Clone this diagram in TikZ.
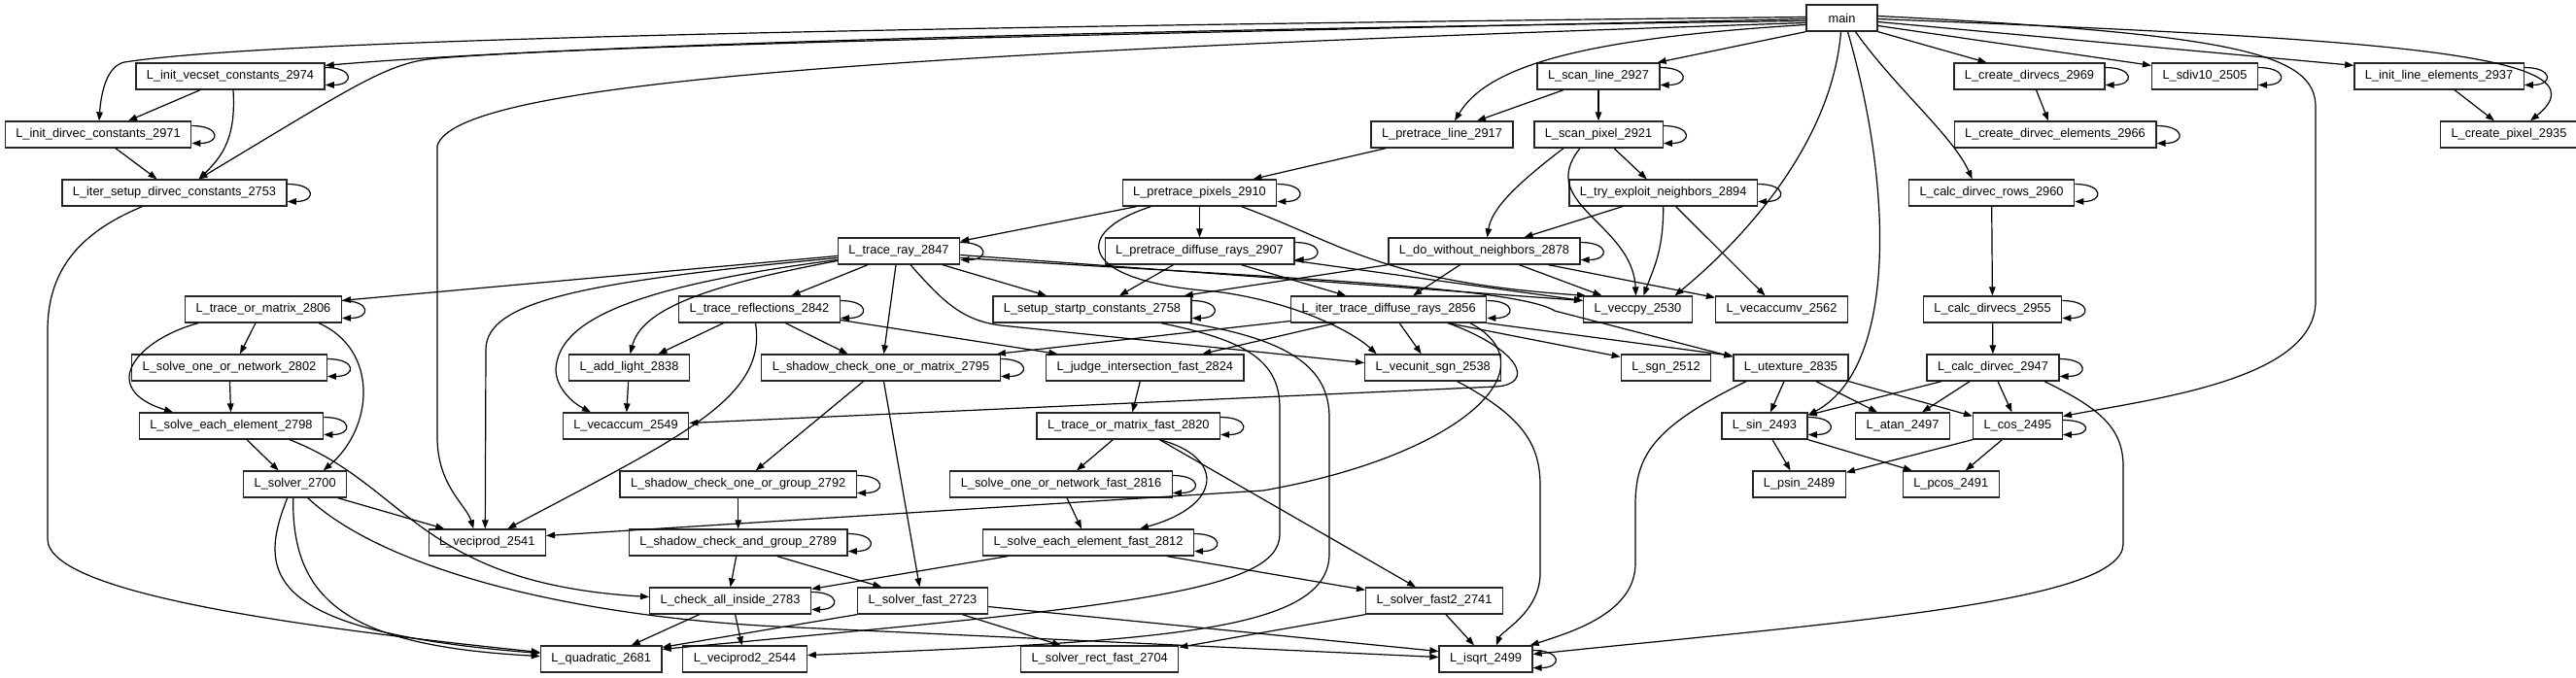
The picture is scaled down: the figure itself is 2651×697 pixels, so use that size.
\documentclass[tikz,border=0pt]{standalone}
\usepackage{fontspec}
\setmainfont{Liberation Sans}
\usetikzlibrary{arrows.meta}

\begin{document}
\begin{tikzpicture}[x=1pt, y=-1pt,
  fn/.style={rectangle, draw=black!85, line width=1.3pt, minimum height=27pt,
    inner xsep=11pt, inner ysep=0pt, font=\fontsize{12.8}{14}\selectfont},
  arr/.style={-{Triangle[length=9pt,width=6.5pt]}, line width=1.2pt}]
  \tikzset{selfloop/.style={to path={.. controls +(30pt,0pt) and +(30pt,0pt) .. (\tikztotarget)}}}
  \useasboundingbox (0,0) rectangle (2651,697);
  % Nodes, one row per call depth
  \node[fn, minimum width=73pt] (main) at (1895.5,18.5) {main};
  \node[fn] (initvecset) at (237,78.5) {L\_init\_vecset\_constants\_2974};
  \node[fn] (scanline) at (1645,78.5) {L\_scan\_line\_2927};
  \node[fn] (createdirvecs) at (2088.5,78.5) {L\_create\_dirvecs\_2969};
  \node[fn] (sdiv) at (2269,78.5) {L\_sdiv10\_2505};
  \node[fn] (initline) at (2510,78.5) {L\_init\_line\_elements\_2937};
  \node[fn] (initdirvec) at (101,138.5) {L\_init\_dirvec\_constants\_2971};
  \node[fn] (pretraceline) at (1484,138.5) {L\_pretrace\_line\_2917};
  \node[fn] (scanpixel) at (1645,138.5) {L\_scan\_pixel\_2921};
  \node[fn] (createdirvecelements) at (2115,138.5) {L\_create\_dirvec\_elements\_2966};
  \node[fn] (createpixel) at (2582,138.5) {L\_create\_pixel\_2935};
  \node[fn] (itersetup) at (179.5,198.5) {L\_iter\_setup\_dirvec\_constants\_2753};
  \node[fn] (pretracepixels) at (1234.5,198.5) {L\_pretrace\_pixels\_2910};
  \node[fn] (tryexploit) at (1711.7,198.5) {L\_try\_exploit\_neighbors\_2894};
  \node[fn] (calcdirvecrows) at (2049.6,198.5) {L\_calc\_dirvec\_rows\_2960};
  \node[fn] (traceray) at (925,258.5) {L\_trace\_ray\_2847};
  \node[fn] (pretracediffuse) at (1234.5,258.5) {L\_pretrace\_diffuse\_rays\_2907};
  \node[fn] (dowithout) at (1527.5,258.5) {L\_do\_without\_neighbors\_2878};
  \node[fn] (traceormatrix) at (271,318.5) {L\_trace\_or\_matrix\_2806};
  \node[fn] (tracereflections) at (781.5,318.5) {L\_trace\_reflections\_2842};
  \node[fn] (setupstartp) at (1124,318.5) {L\_setup\_startp\_constants\_2758};
  \node[fn] (itertrace) at (1429.2,318.5) {L\_iter\_trace\_diffuse\_rays\_2856};
  \node[fn] (veccpy) at (1685.5,318.5) {L\_veccpy\_2530};
  \node[fn] (vecaccumv) at (1833.5,318.5) {L\_vecaccumv\_2562};
  \node[fn] (calcdirvecs) at (2050.5,318.5) {L\_calc\_dirvecs\_2955};
  \node[fn] (solveone) at (236,378.5) {L\_solve\_one\_or\_network\_2802};
  \node[fn] (addlight) at (647.5,378.5) {L\_add\_light\_2838};
  \node[fn] (shadowmatrix) at (906.5,378.5) {L\_shadow\_check\_one\_or\_matrix\_2795};
  \node[fn] (judge) at (1178.3,378.5) {L\_judge\_intersection\_fast\_2824};
  \node[fn] (vecunitsgn) at (1474.7,378.5) {L\_vecunit\_sgn\_2538};
  \node[fn] (lsgn) at (1714.5,378.5) {L\_sgn\_2512};
  \node[fn] (utexture) at (1843,378.5) {L\_utexture\_2835};
  \node[fn] (calcdirvec) at (2051,378.5) {L\_calc\_dirvec\_2947};
  \node[fn] (solveeach) at (238,438.5) {L\_solve\_each\_element\_2798};
  \node[fn] (vecaccum) at (644,438.5) {L\_vecaccum\_2549};
  \node[fn] (traceormatrixfast) at (1161.3,438.5) {L\_trace\_or\_matrix\_fast\_2820};
  \node[fn] (lsin) at (1816,438.5) {L\_sin\_2493};
  \node[fn] (latan) at (1958,438.5) {L\_atan\_2497};
  \node[fn] (lcos) at (2076.4,438.5) {L\_cos\_2495};
  \node[fn] (solver) at (303.7,498.5) {L\_solver\_2700};
  \node[fn] (shadowgroup) at (759.7,498.5) {L\_shadow\_check\_one\_or\_group\_2792};
  \node[fn] (solveonefast) at (1092,498.5) {L\_solve\_one\_or\_network\_fast\_2816};
  \node[fn] (psin) at (1851.6,498.5) {L\_psin\_2489};
  \node[fn] (pcos) at (2007.7,498.5) {L\_pcos\_2491};
  \node[fn] (veciprod) at (501.3,558.5) {L\_veciprod\_2541};
  \node[fn] (shadowand) at (759.7,558.5) {L\_shadow\_check\_and\_group\_2789};
  \node[fn] (solveeachfast) at (1120,558.5) {L\_solve\_each\_element\_fast\_2812};
  \node[fn] (checkall) at (751.6,618.5) {L\_check\_all\_inside\_2783};
  \node[fn] (solverfast) at (949.4,618.5) {L\_solver\_fast\_2723};
  \node[fn] (solverfasttwo) at (1476,618.5) {L\_solver\_fast2\_2741};
  \node[fn] (quadratic) at (618.7,678.5) {L\_quadratic\_2681};
  \node[fn] (veciprodtwo) at (766.5,678.5) {L\_veciprod2\_2544};
  \node[fn] (solverrect) at (1131.7,678.5) {L\_solver\_rect\_fast\_2704};
  \node[fn] (isqrt) at (1529,678.5) {L\_isqrt\_2499};
  % main
  \draw[arr] ([yshift=-3pt]main.west) .. controls (1200,30) and (600,45) .. ([yshift=-3pt]initvecset.north east);
  \draw[arr] ([yshift=1pt]main.west) .. controls (700,30) and (250,45) .. (128,64) .. controls (110,68) and (104,95) .. ([xshift=1pt]initdirvec.north);
  \draw[arr] ([yshift=-1pt]main.west) .. controls (1000,38) and (600,48) .. (450,60) .. controls (400,64) and (370,85) .. ([xshift=25pt]itersetup.north);
  \draw[arr] ([yshift=-5pt]main.west) .. controls (900,55) and (470,85) .. (450,150) -- (450,450) .. controls (450,500) and (480,520) .. ([xshift=-14pt]veciprod.north);
  \draw[arr] ([yshift=-7pt]main.west) .. controls (1620,40) and (1530,70) .. ([xshift=13pt]pretraceline.north);
  \draw[arr] (main.south west) -- ([xshift=-3pt]scanline.north east);
  \draw[arr] ([xshift=-1pt]main.south) .. controls (1885,150) and (1790,250) .. ([xshift=38pt]veccpy.north);
  \draw[arr] ([xshift=6pt]main.south) .. controls (1950,200) and (1950,380) .. ([yshift=-3pt]lsin.north east);
  \draw[arr] ([xshift=14pt]main.south) .. controls (1950,90) and (2010,140) .. ([xshift=-20pt]calcdirvecrows.north);
  \draw[arr] (main.south east) -- ([xshift=-44pt]createdirvecs.north);
  \draw[arr] ([yshift=-8pt]main.east) -- ([yshift=-3pt]sdiv.north west);
  \draw[arr] ([yshift=-4pt]main.east) -- ([yshift=-3pt]initline.north west);
  \draw[arr] ([yshift=-1pt]main.east) .. controls (2450,40) and (2690,55) .. ([xshift=22pt]createpixel.north);
  \draw[arr] ([yshift=2pt]main.east) .. controls (2300,35) and (2383,55) .. (2383,110) -- (2383,310) .. controls (2383,390) and (2220,410) .. ([yshift=10pt]lcos.east);
  % setup of the direction vectors
  \draw[arr] ([xshift=-31pt]initvecset.south) -- ([xshift=31pt]initdirvec.north);
  \draw[arr] ([xshift=3pt]initvecset.south) .. controls (243,140) and (230,160) .. ([xshift=25pt]itersetup.north);
  \draw[arr] ([xshift=18pt]initdirvec.south) -- ([xshift=-18pt]itersetup.north);
  \draw[arr] ([xshift=-33pt]itersetup.south) .. controls (80,240) and (49,280) .. (49,340) -- (49,555) .. controls (49,610) and (300,645) .. ([yshift=7pt]quadratic.west);
  \draw[arr] ([xshift=7pt]createdirvecs.south) -- ([xshift=-7pt]createdirvecelements.north);
  \draw[arr] ([xshift=16pt]initline.south) -- ([xshift=-15pt]createpixel.north);
  \draw[arr] (calcdirvecrows) -- (calcdirvecs);
  \draw[arr] (calcdirvecs) -- (calcdirvec);
  % scan and pretrace
  \draw[arr] ([xshift=-36pt]scanline.south) -- ([xshift=36pt]pretraceline.north);
  \draw[arr] (scanline) -- (scanpixel);
  \draw[arr] ([xshift=-58pt]pretraceline.south) -- ([xshift=55pt]pretracepixels.north);
  \draw[arr] ([xshift=16pt]scanpixel.south) -- ([xshift=-17pt]tryexploit.north);
  \draw[arr] ([xshift=-36pt]scanpixel.south) .. controls (1560,190) and (1535,215) .. ([xshift=3pt]dowithout.north);
  \draw[arr] ([xshift=-19pt]scanpixel.south) .. controls (1580,210) and (1680,230) .. ([xshift=-2pt]veccpy.north);
  \draw[arr] ([xshift=-42pt]tryexploit.south) -- ([xshift=41pt]dowithout.north);
  \draw[arr] (tryexploit.south) .. controls (1712,260) and (1700,280) .. ([xshift=6pt]veccpy.north);
  \draw[arr] ([xshift=13pt]tryexploit.south) -- ([xshift=-17pt]vecaccumv.north);
  \draw[arr] ([xshift=-65pt]pretracepixels.south) -- ([yshift=-4pt]traceray.north east);
  \draw[arr] (pretracepixels) -- (pretracediffuse);
  \draw[arr] ([xshift=43pt]pretracepixels.south) .. controls (1380,250) and (1420,290) .. ([xshift=3pt]veccpy.north west);
  \draw[arr] ([xshift=-50pt]pretracepixels.south) .. controls (1100,240) and (1110,290) .. (1250,300) .. controls (1330,310) and (1390,340) .. ([xshift=-58pt]vecunitsgn.north);
  \draw[arr] ([xshift=-27pt]pretracediffuse.south) -- ([xshift=28pt]setupstartp.north);
  \draw[arr] ([xshift=43pt]pretracediffuse.south) -- ([xshift=-44pt]itertrace.north);
  \draw[arr] ([yshift=-10pt]pretracediffuse.east) -- ([yshift=9pt]veccpy.west);
  \draw[arr] (dowithout.south west) -- ([xshift=-8pt]setupstartp.north east);
  \draw[arr] ([xshift=-25pt]dowithout.south) -- ([xshift=25pt]itertrace.north);
  \draw[arr] ([xshift=36pt]dowithout.south) -- ([xshift=-37pt]veccpy.north);
  \draw[arr] ([xshift=66pt]dowithout.south) -- ([yshift=-2pt]vecaccumv.north west);
  % trace_ray
  \draw[arr] ([yshift=-5pt]traceray.west) -- ([yshift=-5pt]traceormatrix.north east);
  \draw[arr] ([xshift=-32pt]traceray.south) -- ([xshift=33pt]tracereflections.north);
  \draw[arr] ([yshift=-7pt]traceray.west) .. controls (600,290) and (500,310) .. (500,360) -- ([xshift=-2pt]veciprod.north);
  \draw[arr] ([yshift=-9pt]traceray.west) .. controls (650,295) and (575,330) .. (572,380) .. controls (572,400) and (590,415) .. ([xshift=-36pt]vecaccum.north);
  \draw[arr] ([yshift=-10pt]traceray.west) .. controls (720,295) and (660,320) .. ([xshift=1pt]addlight.north);
  \draw[arr] ([xshift=-3pt]traceray.south) -- ([xshift=3pt]shadowmatrix.north);
  \draw[arr] ([xshift=45pt]traceray.south) -- ([xshift=-47pt]setupstartp.north);
  \draw[arr] ([xshift=12pt]traceray.south) .. controls (970,310) and (990,330) .. (1030,335) -- ([yshift=5pt]vecunitsgn.west);
  \draw[arr] ([yshift=-4pt]traceray.east) -- ([yshift=9pt]veccpy.west);
  \draw[arr] ([yshift=-7pt]traceray.east) .. controls (1300,285) and (1560,295) .. (1600,320) -- ([yshift=-3pt]utexture.north west);
  % trace_reflections
  \draw[arr] ([xshift=-37pt]tracereflections.south) -- ([xshift=30pt]addlight.north);
  \draw[arr] ([xshift=27pt]tracereflections.south) -- ([xshift=-34pt]shadowmatrix.north);
  \draw[arr] ([xshift=-4pt]tracereflections.south) .. controls (790,410) and (700,450) .. ([xshift=21pt]veciprod.north);
  \draw[arr] ([yshift=-11pt]tracereflections.east) -- ([xshift=-90pt]judge.north);
  % trace_or_matrix
  \draw[arr] ([xshift=-8pt]traceormatrix.south) -- ([xshift=11pt]solveone.north);
  \draw[arr] ([xshift=-67pt]traceormatrix.south) .. controls (140,350) and (100,400) .. ([xshift=-60pt]solveeach.north);
  \draw[arr] ([xshift=57pt]traceormatrix.south) .. controls (390,360) and (385,440) .. ([xshift=29pt]solver.north);
  \draw[arr] (solveone) -- (solveeach);
  \draw[arr] ([xshift=16pt]solveeach.south) -- ([xshift=-17pt]solver.north);
  \draw[arr] ([xshift=60pt]solveeach.south) .. controls (420,500) and (430,600) .. ([yshift=4pt]checkall.west);
  \draw[arr] ([xshift=44pt]solver.south) -- ([xshift=-44pt]veciprod.north);
  \draw[arr] ([xshift=-8pt]solver.south) .. controls (265,590) and (270,650) .. ([yshift=6pt]quadratic.west);
  \draw[arr] ([xshift=-2pt]solver.south) .. controls (300,620) and (360,665) .. ([yshift=3pt]quadratic.west);
  \draw[arr] ([xshift=13pt]solver.south) .. controls (400,590) and (600,635) .. (800,645) -- ([yshift=2pt]isqrt.west);
  % shadows and light
  \draw[arr] (addlight) -- (vecaccum);
  \draw[arr] ([xshift=-18pt]shadowmatrix.south) -- ([xshift=18pt]shadowgroup.north);
  \draw[arr] ([xshift=3pt]shadowmatrix.south) -- ([xshift=-3pt]solverfast.north);
  \draw[arr] (shadowgroup) -- (shadowand);
  \draw[arr] ([xshift=-2pt]shadowand.south) -- (checkall.north);
  \draw[arr] ([xshift=40pt]shadowand.south) -- ([xshift=-42pt]solverfast.north);
  \draw[arr] ([xshift=-32pt]checkall.south) -- ([xshift=31pt]quadratic.north);
  \draw[arr] ([xshift=5pt]checkall.south) -- ([xshift=-3pt]veciprodtwo.north);
  % setup_startp_constants
  \draw[arr] ([xshift=71pt]setupstartp.south) .. controls (1280,350) and (1317,370) .. (1317,420) -- (1317,550) .. controls (1317,610) and (1150,625) .. ([yshift=-4pt]quadratic.north east);
  \draw[arr] ([xshift=100pt]setupstartp.south) .. controls (1330,350) and (1368,380) .. (1368,430) -- (1368,570) .. controls (1368,650) and (1200,660) .. ([yshift=4pt]veciprodtwo.east);
  % iter_trace_diffuse_rays
  \draw[arr] ([yshift=-12pt]itertrace.west) -- ([xshift=-4pt]shadowmatrix.north east);
  \draw[arr] ([xshift=-55pt]itertrace.south) -- ([xshift=59pt]judge.north);
  \draw[arr] ([xshift=11pt]itertrace.south) -- ([xshift=-12pt]vecunitsgn.north);
  \draw[arr] ([xshift=61pt]itertrace.south) -- ([yshift=-3pt]lsgn.north west);
  \draw[arr] (itertrace.south east) -- ([yshift=-2pt]utexture.north west);
  \draw[arr] ([xshift=61pt]itertrace.south) .. controls (1565,360) and (1580,395) .. (1540,398) -- ([yshift=3pt]vecaccum.east);
  \draw[arr] ([xshift=84pt]itertrace.south) .. controls (1600,380) and (1500,470) .. (1300,505) -- ([yshift=7pt]veciprod.east);
  % fast path
  \draw[arr] ([xshift=-5pt]judge.south) -- ([xshift=4pt]traceormatrixfast.north);
  \draw[arr] ([xshift=-16pt]traceormatrixfast.south) -- ([xshift=16pt]solveonefast.north);
  \draw[arr] ([xshift=32pt]traceormatrixfast.south) .. controls (1260,470) and (1260,520) .. ([xshift=53pt]solveeachfast.north);
  \draw[arr] ([xshift=32pt]traceormatrixfast.south) -- ([xshift=-19pt]solverfasttwo.north);
  \draw[arr] ([xshift=6pt]solveonefast.south) -- ([xshift=-7pt]solveeachfast.north);
  \draw[arr] ([xshift=-83pt]solveeachfast.south) -- ([yshift=-2pt]checkall.north east);
  \draw[arr] ([xshift=81pt]solveeachfast.south) -- ([yshift=-3pt]solverfasttwo.north west);
  \draw[arr] ([xshift=41pt]solverfast.south) -- ([xshift=-40pt]solverrect.north);
  \draw[arr] ([yshift=-6pt]solverfast.east) -- ([yshift=8pt]isqrt.west);
  \draw[arr] (solverfast.south west) -- ([yshift=-2pt]quadratic.north east);
  \draw[arr] ([xshift=12pt]solverfasttwo.south) -- ([xshift=-12pt]isqrt.north);
  \draw[arr] (solverfasttwo.south west) -- ([yshift=-2pt]solverrect.north east);
  \draw[arr] ([xshift=25pt]vecunitsgn.south) .. controls (1570,430) and (1585,460) .. (1585,500) -- (1585,590) .. controls (1585,630) and (1545,650) .. ([xshift=11pt]isqrt.north);
  % texture and trig
  \draw[arr] ([xshift=-46pt]utexture.south) .. controls (1700,440) and (1683,470) .. (1683,520) -- (1683,580) .. controls (1683,630) and (1620,650) .. ([xshift=-3pt]isqrt.north east);
  \draw[arr] ([xshift=-7pt]utexture.south) -- ([xshift=6pt]lsin.north);
  \draw[arr] ([xshift=26pt]utexture.south) -- ([xshift=-26pt]latan.north);
  \draw[arr] (utexture.south east) -- ([yshift=-4pt]lcos.north west);
  \draw[arr] ([xshift=-53pt]calcdirvec.south) -- ([yshift=-3pt]lsin.north east);
  \draw[arr] ([xshift=-24pt]calcdirvec.south) -- ([xshift=20pt]latan.north);
  \draw[arr] ([xshift=5pt]calcdirvec.south) -- ([xshift=-6pt]lcos.north);
  \draw[arr] ([xshift=53pt]calcdirvec.south) .. controls (2160,420) and (2185,440) .. (2185,480) -- (2185,560) .. controls (2185,620) and (1900,640) .. ([yshift=5pt]isqrt.east);
  \draw[arr] ([xshift=8pt]lsin.south) -- ([xshift=-9pt]psin.north);
  \draw[arr] (lsin.south east) -- ([xshift=-40pt]pcos.north);
  \draw[arr] (lcos.south west) -- ([yshift=-2pt]psin.north east);
  \draw[arr] ([xshift=-16pt]lcos.south) -- ([xshift=15pt]pcos.north);
  % self calls
  \draw[arr] ([yshift=9pt]initvecset.east) to[selfloop] ([yshift=-9pt]initvecset.east);
  \draw[arr] ([yshift=9pt]initdirvec.east) to[selfloop] ([yshift=-9pt]initdirvec.east);
  \draw[arr] ([yshift=9pt]itersetup.east) to[selfloop] ([yshift=-9pt]itersetup.east);
  \draw[arr] ([yshift=9pt]scanline.east) to[selfloop] ([yshift=-9pt]scanline.east);
  \draw[arr] ([yshift=9pt]scanpixel.east) to[selfloop] ([yshift=-9pt]scanpixel.east);
  \draw[arr] ([yshift=9pt]createdirvecs.east) to[selfloop] ([yshift=-9pt]createdirvecs.east);
  \draw[arr] ([yshift=9pt]createdirvecelements.east) to[selfloop] ([yshift=-9pt]createdirvecelements.east);
  \draw[arr] ([yshift=9pt]sdiv.east) to[selfloop] ([yshift=-9pt]sdiv.east);
  \draw[arr] ([yshift=9pt]initline.east) to[selfloop] ([yshift=-9pt]initline.east);
  \draw[arr] ([yshift=9pt]pretracepixels.east) to[selfloop] ([yshift=-9pt]pretracepixels.east);
  \draw[arr] ([yshift=9pt]tryexploit.east) to[selfloop] ([yshift=-9pt]tryexploit.east);
  \draw[arr] ([yshift=9pt]calcdirvecrows.east) to[selfloop] ([yshift=-9pt]calcdirvecrows.east);
  \draw[arr] ([yshift=9pt]traceray.east) to[selfloop] ([yshift=-9pt]traceray.east);
  \draw[arr] ([yshift=9pt]pretracediffuse.east) to[selfloop] ([yshift=-9pt]pretracediffuse.east);
  \draw[arr] ([yshift=9pt]dowithout.east) to[selfloop] ([yshift=-9pt]dowithout.east);
  \draw[arr] ([yshift=9pt]traceormatrix.east) to[selfloop] ([yshift=-9pt]traceormatrix.east);
  \draw[arr] ([yshift=9pt]tracereflections.east) to[selfloop] ([yshift=-9pt]tracereflections.east);
  \draw[arr] ([yshift=9pt]setupstartp.east) to[selfloop] ([yshift=-9pt]setupstartp.east);
  \draw[arr] ([yshift=9pt]itertrace.east) to[selfloop] ([yshift=-9pt]itertrace.east);
  \draw[arr] ([yshift=9pt]calcdirvecs.east) to[selfloop] ([yshift=-9pt]calcdirvecs.east);
  \draw[arr] ([yshift=9pt]solveone.east) to[selfloop] ([yshift=-9pt]solveone.east);
  \draw[arr] ([yshift=9pt]shadowmatrix.east) to[selfloop] ([yshift=-9pt]shadowmatrix.east);
  \draw[arr] ([yshift=9pt]calcdirvec.east) to[selfloop] ([yshift=-9pt]calcdirvec.east);
  \draw[arr] ([yshift=9pt]solveeach.east) to[selfloop] ([yshift=-9pt]solveeach.east);
  \draw[arr] ([yshift=9pt]traceormatrixfast.east) to[selfloop] ([yshift=-9pt]traceormatrixfast.east);
  \draw[arr] ([yshift=9pt]lsin.east) to[selfloop] ([yshift=-9pt]lsin.east);
  \draw[arr] ([yshift=6pt]lcos.east) to[selfloop] ([yshift=-9pt]lcos.east);
  \draw[arr] ([yshift=9pt]shadowgroup.east) to[selfloop] ([yshift=-9pt]shadowgroup.east);
  \draw[arr] ([yshift=9pt]solveonefast.east) to[selfloop] ([yshift=-9pt]solveonefast.east);
  \draw[arr] ([yshift=9pt]shadowand.east) to[selfloop] ([yshift=-9pt]shadowand.east);
  \draw[arr] ([yshift=9pt]solveeachfast.east) to[selfloop] ([yshift=-9pt]solveeachfast.east);
  \draw[arr] ([yshift=9pt]checkall.east) to[selfloop] ([yshift=-9pt]checkall.east);
  \draw[arr] ([yshift=9pt]isqrt.east) to[selfloop] ([yshift=-9pt]isqrt.east);
\end{tikzpicture}
\end{document}
